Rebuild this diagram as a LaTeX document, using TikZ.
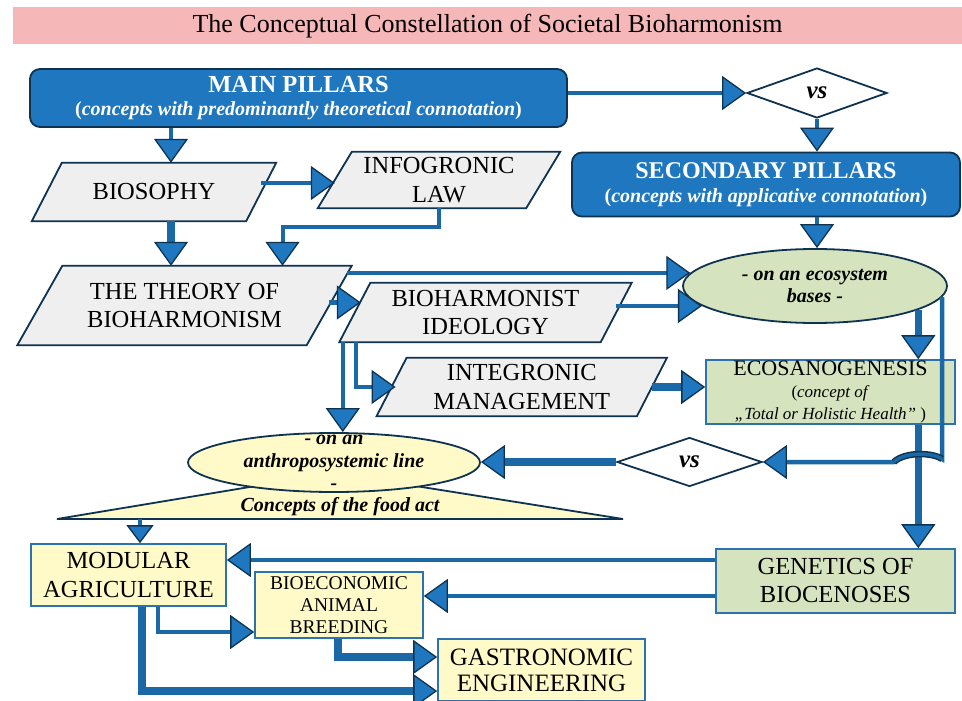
\documentclass[tikz,border=0pt]{standalone}
\usepackage{fontspec}
\setmainfont{Liberation Serif}
\usetikzlibrary{arrows.meta,shapes.geometric}

\definecolor{pillblue}{HTML}{1F78BF}
\definecolor{tipblue}{HTML}{1F78BF}
\definecolor{lineblue}{HTML}{1A69A6}
\definecolor{navy}{HTML}{0E3350}
\definecolor{pgray}{HTML}{EFEFEF}
\definecolor{lgreen}{HTML}{D5E3BE}
\definecolor{lyellow}{HTML}{FFFAC8}
\definecolor{boxblue}{HTML}{2C72B0}
\definecolor{titlepink}{HTML}{F5B7B8}

\pgfdeclarelayer{bg}
\pgfsetlayers{bg,main}

% parallelogram outline around a text node: name, half of the slant
\newcommand\pgramdraw[2]{%
  \draw[pgramshape] ([xshift=#2]#1.north west) -- ([xshift=#2]#1.north east)
    -- ([xshift=-#2]#1.south east) -- ([xshift=-#2]#1.south west) -- cycle;}

\tikzset{
  bigtip/.tip={Triangle[length=24pt,width=34pt,fill=tipblue,color=navy,line width=1.3pt]},
  smalltip/.tip={Triangle[length=18pt,width=27pt,fill=tipblue,color=navy,line width=1.3pt]},
  conn/.style={draw=lineblue, line width=4.5pt, arrows={-bigtip}},
  thickconn/.style={conn, line width=7.5pt},
  titlebar/.style={fill=titlepink, minimum width=949pt, minimum height=37pt, inner sep=0,
    font=\fontsize{26}{28}\selectfont},
  pillar/.style={draw=navy, line width=1.8pt, fill=pillblue, rounded corners=10pt,
    text=white, align=center, inner sep=0, font=\fontsize{20}{23.5}\selectfont},
  pgtext/.style={inner sep=0, align=center, font=\fontsize{24.5}{28.5}\selectfont},
  pgramshape/.style={draw=navy, line width=1.8pt, fill=pgray},
  vsd/.style={diamond, draw=navy, line width=1.8pt, fill=white, inner sep=0,
    font=\fontsize{25}{26}\selectfont\bfseries\itshape},
  itext/.style={inner sep=0, align=center, font=\fontsize{20}{22.5}\selectfont\bfseries\itshape},
  gbox/.style={draw=boxblue, line width=1.6pt, fill=lgreen, inner sep=0, align=center},
  ybox/.style={draw=boxblue, line width=1.6pt, fill=lyellow, inner sep=0, align=center},
}

\begin{document}
\begin{tikzpicture}[x=1pt,y=-1pt]
\useasboundingbox (0,0) rectangle (962,701);

% title
\node[titlebar] (title) at (487.5,26) {The Conceptual Constellation of Societal Bioharmonism};

% pillars
\node[pillar, minimum width=537pt, minimum height=58pt] (main) at (298.5,98)
  {{\fontsize{24.5}{23.5}\selectfont\bfseries MAIN PILLARS}\\
   {\bfseries (\textit{concepts with predominantly theoretical connotation})}};
\node[vsd, minimum width=140pt, minimum height=50pt] (vs1) at (817,93) {vs};
\node[pillar, minimum width=388pt, minimum height=64pt] (sec) at (766,184.5)
  {{\fontsize{24}{23.5}\selectfont\bfseries SECONDARY PILLARS}\\
   {\bfseries (\textit{concepts with applicative connotation})}};

% theoretical concepts (parallelograms)
\node[pgtext, minimum width=214pt, minimum height=58pt] (bios) at (154,192) {BIOSOPHY};
\node[pgtext, minimum width=208pt, minimum height=56pt] (info) at (439,180) {INFOGRONIC\\LAW};
\node[pgtext, minimum width=289pt, minimum height=79pt] (theory) at (184.5,305.5) {THE THEORY OF\\BIOHARMONISM};
\node[pgtext, minimum width=261pt, minimum height=59pt] (bioharm) at (485.5,312.5) {BIOHARMONIST\\IDEOLOGY};
\node[pgtext, minimum width=260pt, minimum height=58pt] (integ) at (521.75,387) {INTEGRONIC\\MANAGEMENT};

\begin{pgfonlayer}{bg}
  \pgramdraw{bios}{15pt}
  \pgramdraw{info}{17pt}
  \pgramdraw{theory}{22.5pt}
  \pgramdraw{bioharm}{15.5pt}
  \pgramdraw{integ}{15pt}
\end{pgfonlayer}

% ecosystem line
\node[ellipse, draw=navy, line width=1.8pt, fill=lgreen, minimum width=264pt, minimum height=74pt,
  inner sep=0, align=center, font=\fontsize{20}{22}\selectfont\bfseries\itshape] (eco) at (815,286)
  {- on an ecosystem\\bases -};
\node[gbox, minimum width=249pt, minimum height=64pt, font=\fontsize{17}{22}\selectfont] (ecosano) at (830.5,392)
  {{\fontsize{22}{22}\selectfont ECOSANOGENESIS}\\(\textit{concept of}\\\textit{„Total or Holistic Health”} )};
\node[vsd, minimum width=145pt, minimum height=49pt] (vs2) at (689.5,462) {vs};
\node[gbox, minimum width=239pt, minimum height=64pt, font=\fontsize{24.5}{28}\selectfont] (gen) at (835.5,581)
  {GENETICS OF\\BIOCENOSES};

% anthroposystemic line
\coordinate (triL) at (57,519);
\coordinate (triR) at (623,519);
\coordinate (triT) at (334,473);
\begin{pgfonlayer}{bg}
  \draw[navy, line width=1.8pt, fill=lyellow] (triL) -- (triT) -- (triR) -- cycle;
\end{pgfonlayer}
\node[ellipse, draw=navy, line width=1.8pt, fill=lyellow, minimum width=292pt, minimum height=59pt,
  inner sep=0] (anth) at (334,462.5) {};
\node[itext] (anthtext) at (anth.center) {- on an\\anthroposystemic line\\-};
\node[itext] (food) at (340,507) {Concepts of the food act};

% applied concepts
\node[ybox, minimum width=195pt, minimum height=62pt, font=\fontsize{24.5}{29}\selectfont] (modular) at (128.5,575)
  {MODULAR\\AGRICULTURE};
\node[ybox, minimum width=168pt, minimum height=66pt, font=\fontsize{19.5}{22}\selectfont] (bioecon) at (339,605)
  {BIOECONOMIC\\ANIMAL\\BREEDING};
\node[ybox, minimum width=207pt, minimum height=62pt, font=\fontsize{25}{26}\selectfont] (gastro) at (541.5,670)
  {GASTRONOMIC\\ENGINEERING};

% connectors
\draw[conn] (main.east |- vs1.west) -- (vs1.west);
\draw[conn] (vs1.south) -- (vs1.south |- sec.north);
\draw[conn] ([xshift=17pt]bios.north |- main.south) -- ([xshift=17pt]bios.north);
\draw[conn] ([yshift=9pt]bios.east) -- ([yshift=9pt]bios.east -| info.west);
\draw[thickconn] ([xshift=17pt]bios.south) -- ([xshift=17pt]bios.south |- theory.north);
\draw[conn, line width=4pt] (info.south) -- ++(0,19) -| ([xshift=98pt]theory.north);
\draw[conn] ([xshift=18pt]theory.north east |- eco.174) -- (eco.174);
\draw[conn] ([yshift=3pt]theory.east) -- ([yshift=3pt,xshift=6pt]theory.east -| bioharm.west);
\draw[conn] (bioharm.east |- eco.190) -- (eco.190);
\draw[conn] ([xshift=-12pt]bioharm.south west) -- ([xshift=-12pt]bioharm.south west |- anth.north);
\draw[conn] ([xshift=1pt]bioharm.south west) |- ([xshift=4pt]integ.west);
\draw[thickconn] (integ.east) -- (integ.east -| ecosano.west);
\draw[conn] (vs1.south |- sec.south) -- (vs1.south |- eco.north);
\draw[thickconn] (eco.-13) -- (eco.-13 |- ecosano.north);
\draw[thickconn] (eco.-13 |- ecosano.south) -- (eco.-13 |- gen.north);

% return line from the ecosystem ellipse, hopping over the vertical line
\coordinate (hopR) at ([yshift=3pt]eco.-5 |- vs2.east);
\coordinate (hopL) at ([xshift=131pt]vs2.east);
\draw[conn] (eco.-5) -- (hopR) .. controls (932,452) and (904,452) .. (hopL) -- (vs2.east);
\draw[navy, line width=6.5pt] (hopR) .. controls (932,452) and (904,452) .. (hopL);
\draw[lineblue, line width=3.5pt] (hopR) .. controls (932,452) and (904,452) .. (hopL);

\draw[thickconn] (vs2.west) -- (vs2.west -| anth.east);
\draw[conn, arrows={-smalltip}] ([xshift=11.5pt]modular.north |- triL) -- ([xshift=11.5pt]modular.north);
\draw[conn] ([yshift=15pt]modular.east -| gen.west) -- ([yshift=15pt]modular.east);
\draw[conn] ([yshift=9pt]bioecon.east -| gen.west) -- ([yshift=9pt]bioecon.east);
\draw[conn] ([xshift=29.5pt]modular.south) |- ([yshift=-27pt]bioecon.west);
\draw[thickconn] ([xshift=13.5pt]modular.south) |- ([yshift=-21pt]gastro.west);
\draw[thickconn] ([xshift=-1pt]bioecon.south) |- ([yshift=13pt]gastro.west);
\end{tikzpicture}
\end{document}
